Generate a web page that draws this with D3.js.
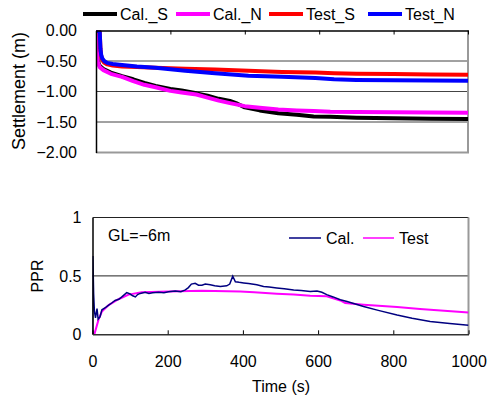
<!DOCTYPE html>
<html>
<head>
<meta charset="utf-8">
<script src="https://cdn.jsdelivr.net/npm/d3@7"></script>
<style>
  body { margin: 0; background: #fff; }
  svg text { font-family: "Liberation Sans", Arial, sans-serif; font-size: 16px; fill: #000; }
</style>
</head>
<body>
<svg id="svg" width="488" height="398"></svg>
<script>
// settlement (top)
var calTime = [0, 2, 5, 10, 20, 40, 70, 100, 130, 160, 200, 230, 270, 300, 330, 360, 380, 400, 440, 490, 540, 585, 630, 700, 800, 900, 1000];
var calS = [0, -0.3, -0.5, -0.58, -0.63, -0.69, -0.75, -0.8, -0.86, -0.91, -0.96, -0.985, -1.03, -1.07, -1.12, -1.155, -1.2, -1.26, -1.31, -1.355, -1.38, -1.41, -1.415, -1.43, -1.44, -1.445, -1.45];
var calN = [0, -0.32, -0.52, -0.6, -0.65, -0.71, -0.76, -0.83, -0.89, -0.93, -0.99, -1.015, -1.05, -1.1, -1.15, -1.19, -1.215, -1.24, -1.265, -1.295, -1.31, -1.32, -1.33, -1.335, -1.34, -1.345, -1.35];
var testTime = [0, 10, 12, 14, 17, 22, 30, 45, 70, 110, 160, 240, 320, 410, 500, 590, 640, 700, 800, 900, 1000];
var testS = [0, -0.02, -0.3, -0.42, -0.49, -0.53, -0.555, -0.575, -0.59, -0.6, -0.61, -0.625, -0.64, -0.66, -0.68, -0.69, -0.7, -0.71, -0.715, -0.72, -0.725];
var testN = [0, -0.02, -0.3, -0.4, -0.46, -0.5, -0.53, -0.55, -0.565, -0.59, -0.61, -0.66, -0.7, -0.74, -0.76, -0.78, -0.8, -0.81, -0.815, -0.82, -0.825];
var settleTicks = [0, -0.5, -1, -1.5, -2];
var topLegend = ["Cal._S", "Cal._N", "Test_S", "Test_N"];

// PPR (bottom)
var pprCalTime = [0, 1, 3, 5, 8, 12, 15, 20, 25, 35, 43, 52, 60, 70, 78, 91, 100, 107, 114, 120, 127, 140, 150, 160, 176, 190, 202, 220, 235, 247, 255, 263, 273, 282, 291, 300, 313, 325, 340, 357, 365, 373, 380, 390, 402, 415, 437, 455, 470, 490, 510, 535, 555, 579, 597, 610, 623, 640, 659, 677, 721, 760, 810, 850, 898, 950, 1000];
var pprCal = [0, 0.67, 0.35, 0.2, 0.14, 0.22, 0.13, 0.15, 0.21, 0.23, 0.25, 0.27, 0.29, 0.3, 0.32, 0.357, 0.345, 0.33, 0.32, 0.34, 0.35, 0.36, 0.35, 0.355, 0.36, 0.355, 0.365, 0.37, 0.365, 0.38, 0.4, 0.43, 0.437, 0.42, 0.42, 0.43, 0.425, 0.415, 0.41, 0.415, 0.43, 0.497, 0.45, 0.445, 0.44, 0.435, 0.425, 0.41, 0.405, 0.397, 0.39, 0.38, 0.375, 0.367, 0.37, 0.36, 0.34, 0.32, 0.296, 0.28, 0.238, 0.205, 0.166, 0.138, 0.109, 0.092, 0.078];
var pprTestTime = [0, 5, 16, 25, 43, 69, 96, 131, 202, 291, 393, 430, 490, 535, 579, 623, 659, 672, 721, 810, 871, 1000];
var pprTest = [0, 0, 0.125, 0.195, 0.25, 0.3, 0.34, 0.36, 0.367, 0.373, 0.367, 0.36, 0.347, 0.34, 0.33, 0.325, 0.29, 0.267, 0.253, 0.233, 0.216, 0.187];
var timeTicks = [0, 200, 400, 600, 800, 1000];
var pprTicks = [0, 0.5, 1];

var svg = d3.select('#svg');

// ---------- top chart ----------
var xTop = d3.scaleLinear().domain([0, 1000]).range([96, 468]);
var yTop = d3.scaleLinear().domain([-2, 0]).range([152.5, 30.5]);

svg.append("defs").append("clipPath").attr("id", "clipTop")
  .append("rect").attr("x", 96).attr("y", 30.5).attr("width", 372).attr("height", 122);

// grid
svg.append("g").selectAll("line").data(settleTicks.slice(1, 4)).enter()
  .append("line")
  .attr("x1", 96).attr("x2", 468)
  .attr("y1", function(d){ return yTop(d); }).attr("y2", function(d){ return yTop(d); })
  .attr("stroke", "#444").attr("stroke-width", 1);

// frame right/bottom
svg.append("path")
  .attr("d", "M468," + yTop(0) + "V" + yTop(-2) + "H96")
  .attr("fill", "none").attr("stroke", "#999").attr("stroke-width", 2);

var lineTop = function(times){
  return d3.line()
    .x(function(d, i){ return xTop(times[i]); })
    .y(function(d){ return yTop(d); });
};
var topSeries = [
  {name: topLegend[0], t: calTime, v: calS, color: "#000000"},
  {name: topLegend[1], t: calTime, v: calN, color: "#ff00ff"},
  {name: topLegend[2], t: testTime, v: testS, color: "#ff0000"},
  {name: topLegend[3], t: testTime, v: testN, color: "#0000ff"}
];
var topLines = svg.append("g").attr("clip-path", "url(#clipTop)");
topSeries.forEach(function(s){
  topLines.append("path")
    .attr("d", lineTop(s.t)(s.v))
    .attr("fill", "none").attr("stroke", s.color)
    .attr("stroke-width", 4).attr("stroke-linejoin", "round");
});

// axes
var yAxisTop = svg.append("g").attr("transform", "translate(96,0)")
  .call(d3.axisLeft(yTop).tickValues(settleTicks).tickFormat(d3.format(".2f")).tickSize(0).tickPadding(19));
yAxisTop.select(".domain").attr("stroke", "#000").attr("stroke-width", 1.5);

var xAxisTop = svg.append("g").attr("transform", "translate(0," + yTop(0) + ")")
  .call(d3.axisTop(xTop).tickValues(timeTicks).tickSizeInner(-4).tickSizeOuter(0).tickFormat(""));
xAxisTop.select(".domain").attr("stroke", "#000").attr("stroke-width", 1.5);

svg.append("text")
  .attr("transform", "translate(25,91) rotate(-90)")
  .attr("text-anchor", "middle")
  .style("font-size", "18px")
  .text("Settlement (m)");

// top legend
var legX = [83, 176, 269, 368];
topSeries.forEach(function(s, i){
  svg.append("line").attr("x1", legX[i]).attr("x2", legX[i] + 34)
    .attr("y1", 14).attr("y2", 14)
    .attr("stroke", s.color).attr("stroke-width", 4);
  svg.append("text").attr("x", legX[i] + 37).attr("y", 20).text(s.name);
});

// ---------- bottom chart ----------
var xBot = d3.scaleLinear().domain([0, 1000]).range([92.5, 468.5]);
var yBot = d3.scaleLinear().domain([0, 1]).range([334.3, 217.5]);

svg.select("defs").append("clipPath").attr("id", "clipBot")
  .append("rect").attr("x", 92.5).attr("y", 217.5).attr("width", 376).attr("height", 117);

svg.append("g").selectAll("line").data([0.5, 1]).enter()
  .append("line")
  .attr("x1", 92.5).attr("x2", 468.5)
  .attr("y1", function(d){ return yBot(d); }).attr("y2", function(d){ return yBot(d); })
  .attr("stroke", "#222").attr("stroke-width", 1);

svg.append("line")
  .attr("x1", 468.5).attr("x2", 468.5).attr("y1", yBot(1)).attr("y2", yBot(0))
  .attr("stroke", "#999").attr("stroke-width", 2);

var botLines = svg.append("g").attr("clip-path", "url(#clipBot)");
botLines.append("path")
  .attr("d", d3.line()
    .x(function(d, i){ return xBot(pprTestTime[i]); })
    .y(function(d){ return yBot(d); })(pprTest))
  .attr("fill", "none").attr("stroke", "#ff00ff").attr("stroke-width", 2);
botLines.append("path")
  .attr("d", d3.line()
    .x(function(d, i){ return xBot(pprCalTime[i]); })
    .y(function(d){ return yBot(d); })(pprCal))
  .attr("fill", "none").attr("stroke", "#000080").attr("stroke-width", 1.5);

var yAxisBot = svg.append("g").attr("transform", "translate(92.5,0)")
  .call(d3.axisLeft(yBot).tickValues(pprTicks).tickFormat(function(d){ return d === 0.5 ? "0.5" : d3.format("d")(d); }).tickSize(0).tickPadding(11));
yAxisBot.select(".domain").attr("stroke", "#000").attr("stroke-width", 1.5);

var xAxisBot = svg.append("g").attr("transform", "translate(0," + yBot(0) + ")")
  .call(d3.axisBottom(xBot).tickValues(timeTicks).tickFormat(d3.format("d")).tickSizeInner(-4).tickSizeOuter(0).tickPadding(21));
xAxisBot.select(".domain").attr("stroke", "#333").attr("stroke-width", 1.5);

svg.selectAll(".tick text").attr("font-size", 16).attr("font-family", "Liberation Sans, Arial, sans-serif");
svg.selectAll(".tick line").attr("stroke", "#000");

svg.append("text")
  .attr("transform", "translate(43,276) rotate(-90)")
  .attr("text-anchor", "middle")
  .text("PPR");
svg.append("text").attr("x", 281).attr("y", 392).attr("text-anchor", "middle").text("Time (s)");
svg.append("text").attr("x", 108).attr("y", 241).text("GL=\u22126m");

// bottom legend
svg.append("line").attr("x1", 289).attr("x2", 321).attr("y1", 238).attr("y2", 238)
  .attr("stroke", "#000080").attr("stroke-width", 1.5);
svg.append("text").attr("x", 326).attr("y", 244).text("Cal.");
svg.append("line").attr("x1", 363).attr("x2", 394).attr("y1", 238).attr("y2", 238)
  .attr("stroke", "#ff00ff").attr("stroke-width", 1.5);
svg.append("text").attr("x", 399).attr("y", 244).text("Test");
</script>
</body>
</html>
